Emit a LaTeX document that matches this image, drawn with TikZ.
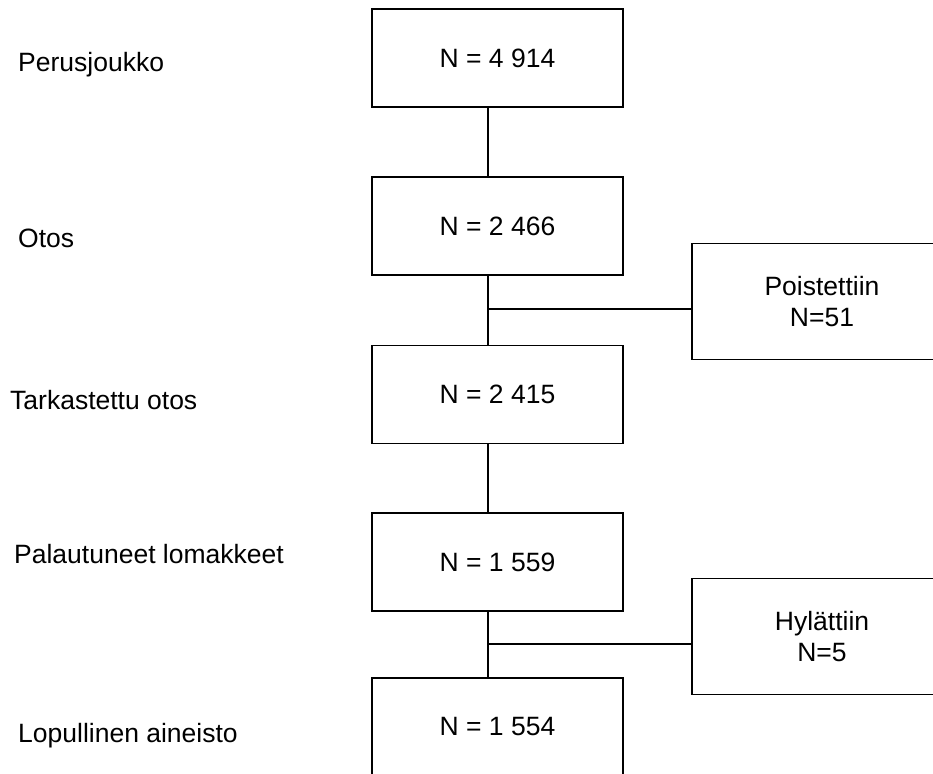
\documentclass[tikz,border=0pt]{standalone}
\usepackage{fontspec}
\setmainfont{Liberation Sans}
\usetikzlibrary{positioning}
\tikzstyle{stagebox}=[
  draw=black,
  line width=1.5pt,
  minimum width=251pt,
  minimum height=98pt,
  inner sep=0pt,
]
\tikzstyle{sidebox}=[
  draw=black,
  line width=1.5pt,
  minimum width=260pt,
  minimum height=116pt,
  align=center,
]
\tikzstyle{stagelabel}=[
  anchor=base west,
  inner sep=0pt,
]
\tikzset{
  x=1pt, y=-1pt,
  font=\fontsize{26.5}{31}\selectfont,
}

\begin{document}
\begin{tikzpicture}
  \useasboundingbox (0,0) rectangle (933,773);
  \clip (0,0) rectangle (933,773);
  % main column
  \node[stagebox] (perus) at (497.5,58) {N = 4 914};
  \node[stagebox] (otos) at (497.5,226) {N = 2 466};
  \node[stagebox] (tark) at (497.5,394.5) {N = 2 415};
  \node[stagebox] (palaut) at (497.5,562) {N = 1 559};
  \node[stagebox] (lopull) at (497.5,727) {N = 1 554};
  % side boxes
  \node[sidebox] (poist) at (822,301.5) {Poistettiin\\N=51};
  \node[sidebox] (hylat) at (822,636.5) {Hylättiin\\N=5};
  % labels on the left
  \node[stagelabel] (lperus) at (18,72) {Perusjoukko};
  \node[stagelabel] (lotos) at (18,247) {Otos};
  \node[stagelabel] (ltark) at (10,409) {Tarkastettu otos};
  \node[stagelabel] (lpalaut) at (14,563) {Palautuneet lomakkeet};
  \node[stagelabel] (llopull) at (18,742) {Lopullinen aineisto};
  % connectors
  \begin{scope}[line width=1.5pt]
    \draw (perus.south -| 488,0) -- (otos.north -| 488,0);
    \draw (otos.south -| 488,0) -- (tark.north -| 488,0);
    \draw (tark.south -| 488,0) -- (palaut.north -| 488,0);
    \draw (palaut.south -| 488,0) -- (lopull.north -| 488,0);
    \draw (488,309) -- (poist.west |- 0,309);
    \draw (488,644) -- (hylat.west |- 0,644);
  \end{scope}
\end{tikzpicture}
\end{document}
